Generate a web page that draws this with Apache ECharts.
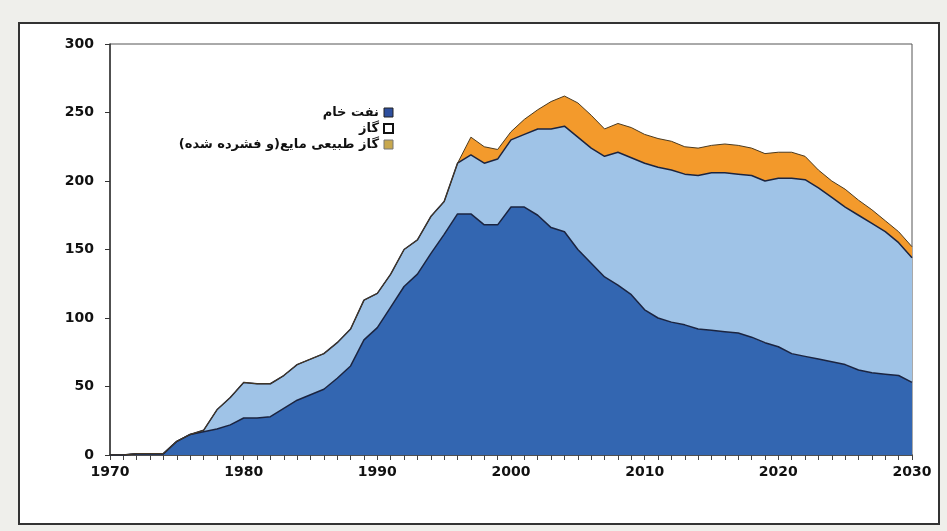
<!DOCTYPE html>
<html>
<head>
<meta charset="utf-8">
<script src="https://cdn.jsdelivr.net/npm/echarts@6/dist/echarts.min.js"></script>
<style>
  html, body { margin: 0; padding: 0; background: #efefeb; }
  #main { width: 947px; height: 531px; }
</style>
</head>
<body>
<div id="main"></div>
<script>
// سال‌ها
var years = [1970,1971,1972,1973,1974,1975,1976,1977,1978,1979,
  1980,1981,1982,1983,1984,1985,1986,1987,1988,1989,
  1990,1991,1992,1993,1994,1995,1996,1997,1998,1999,
  2000,2001,2002,2003,2004,2005,2006,2007,2008,2009,
  2010,2011,2012,2013,2014,2015,2016,2017,2018,2019,
  2020,2021,2022,2023,2024,2025,2026,2027,2028,2029,2030];

// نفت خام
var crudeOil = [0,0,1,1,1,10,15,17,19,22,
  27,27,28,34,40,44,48,56,65,84,
  93,108,123,132,147,161,176,176,168,168,
  181,181,175,166,163,150,140,130,124,117,
  106,100,97,95,92,91,90,89,86,82,
  79,74,72,70,68,66,62,60,59,58,53];

// گاز
var gas = [0,0,0,0,0,0,0,1,14,20,
  26,25,24,24,26,26,26,26,27,29,
  25,24,27,25,27,24,37,43,45,48,
  49,53,63,72,77,82,84,88,97,100,
  107,110,111,110,112,115,116,116,118,118,
  123,128,129,125,120,115,113,109,104,97,91];

// گاز طبیعی مایع (و فشرده شده)
var ngl = [0,0,0,0,0,0,0,0,0,0,
  0,0,0,0,0,0,0,0,0,0,
  0,0,0,0,0,0,0,13,12,7,
  6,11,14,20,22,25,24,20,21,22,
  21,21,21,20,20,20,21,21,20,20,
  19,19,17,13,12,13,11,10,8,8,8];

var names = ['نفت خام', 'گاز', 'گاز طبیعی مایع(و فشرده شده)'];

var chart = echarts.init(document.getElementById('main'));

var lineStyle = { color: '#1b2440', width: 1.5 };

var option = {
  backgroundColor: '#efefeb',
  animation: false,
  // کادر بیرونی
  graphic: [{
    type: 'rect',
    z: -10,
    shape: { x: 19, y: 23, width: 920, height: 501 },
    style: { fill: '#ffffff', stroke: '#333333', lineWidth: 2 }
  }],
  legend: {
    orient: 'vertical',
    right: 548,
    top: 101,
    align: 'right',
    itemWidth: 9,
    itemHeight: 9,
    itemGap: 3,
    textStyle: { fontFamily: 'DejaVu Sans', fontWeight: 'bold', fontSize: 13, color: '#111' },
    data: [
      { name: names[0], icon: 'rect', itemStyle: { color: '#2e4f9e', borderColor: '#222', borderWidth: 1 } },
      { name: names[1], icon: 'rect', itemStyle: { color: '#ffffff', borderColor: '#111', borderWidth: 2 } },
      { name: names[2], icon: 'rect', itemStyle: { color: '#c8a84e', borderColor: '#777', borderWidth: 1 } }
    ]
  },
  grid: {
    left: 110,
    right: 35,
    top: 44,
    bottom: 76,
    show: true,
    backgroundColor: '#ffffff',
    borderColor: '#555',
    borderWidth: 1
  },
  xAxis: {
    type: 'category',
    boundaryGap: false,
    data: years,
    axisLine: { lineStyle: { color: '#333', width: 1.5 } },
    axisTick: { show: true, interval: 0, length: 5, lineStyle: { color: '#444' } },
    splitLine: { show: false },
    axisLabel: {
      interval: 9,
      margin: 10,
      fontFamily: 'DejaVu Sans',
      fontWeight: 'bold',
      fontSize: 14,
      color: '#111'
    }
  },
  yAxis: {
    type: 'value',
    min: 0,
    max: 300,
    interval: 50,
    axisLine: { show: true, lineStyle: { color: '#333', width: 1.5 } },
    axisTick: { show: true, length: 5, lineStyle: { color: '#333' } },
    splitLine: { show: false },
    axisLabel: {
      margin: 16,
      fontFamily: 'DejaVu Sans',
      fontWeight: 'bold',
      fontSize: 14,
      color: '#111'
    }
  },
  series: [
    {
      name: names[0],
      type: 'line',
      stack: 'total',
      symbol: 'none',
      lineStyle: lineStyle,
      itemStyle: { color: '#2e4f9e' },
      areaStyle: { color: '#3366b1', opacity: 1 },
      data: crudeOil
    },
    {
      name: names[1],
      type: 'line',
      stack: 'total',
      symbol: 'none',
      lineStyle: lineStyle,
      itemStyle: { color: '#ffffff' },
      areaStyle: { color: '#9fc3e7', opacity: 1 },
      data: gas
    },
    {
      name: names[2],
      type: 'line',
      stack: 'total',
      symbol: 'none',
      lineStyle: { color: '#4a3a20', width: 1 },
      itemStyle: { color: '#c8a84e' },
      areaStyle: { color: '#f39a2c', opacity: 1 },
      data: ngl
    }
  ]
};

chart.setOption(option);
</script>
</body>
</html>
